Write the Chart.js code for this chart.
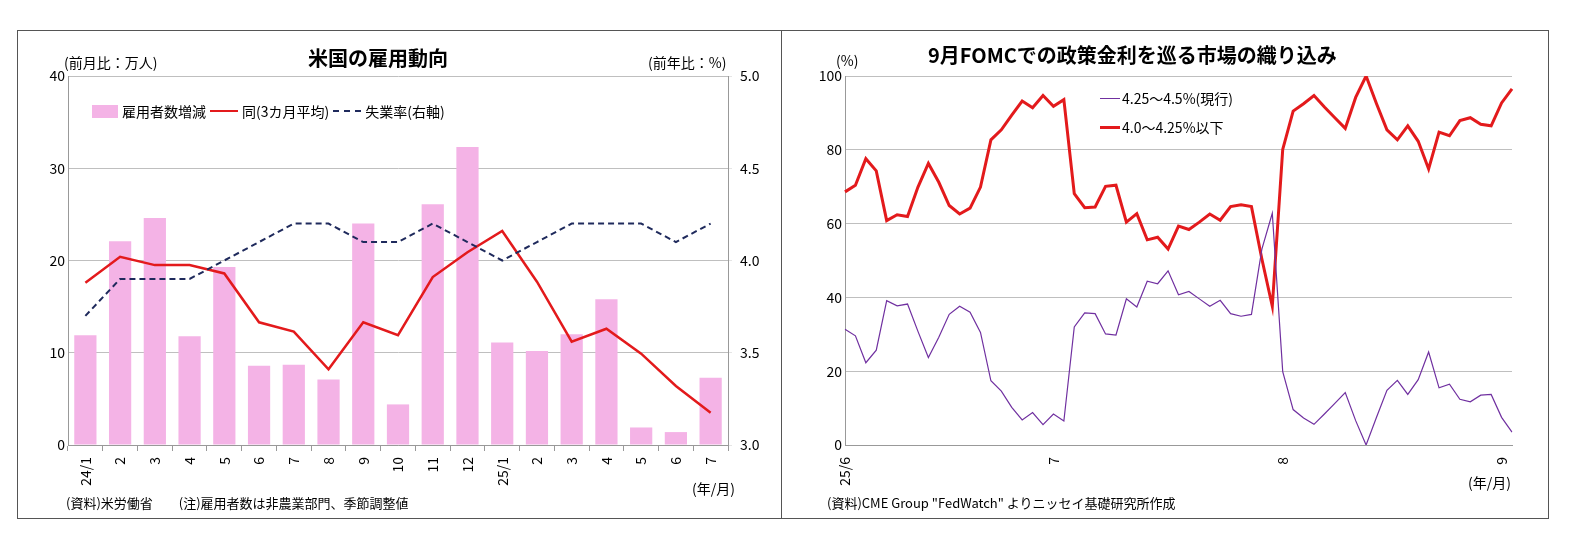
<!DOCTYPE html>
<html><head><meta charset="utf-8">
<script src="https://cdn.jsdelivr.net/npm/chart.js@4"></script>
<style>
body{margin:0;background:#fff;font-family:"Noto Sans CJK JP",sans-serif;}
#frame{position:absolute;left:17px;top:30px;width:1530px;height:487px;border:1px solid #555;}
#div{position:absolute;left:781px;top:30px;width:1px;height:488px;background:#555;}
.t{position:absolute;font-size:13px;color:#000;white-space:nowrap;}
.title{font-size:20px;font-weight:bold;}
canvas{position:absolute;}
.lg{position:absolute;font-size:14px;display:flex;align-items:center;white-space:nowrap;}
</style></head><body>
<div id="frame"></div><div id="div"></div>
<div style="position:absolute;left:17px;top:30px;width:764px;height:488px"><canvas id="c1" width="764" height="488"></canvas></div>
<div style="position:absolute;left:782px;top:30px;width:766px;height:488px"><canvas id="c2" width="766" height="488"></canvas></div>
<div class="t" style="left:64px;top:52px;font-size:14px">(前月比：万人)</div>
<div class="t title" style="left:308px;top:43px">米国の雇用動向</div>
<div class="t" style="left:648px;top:52px;font-size:14px">(前年比：%)</div>
<div class="t" style="left:66px;top:493px">(資料)米労働省　　(注)雇用者数は非農業部門、季節調整値</div>
<div class="t" style="left:692px;top:478px;font-size:14px">(年/月)</div>
<div class="lg" style="left:92px;top:101px"><span style="display:inline-block;width:26px;height:13px;background:#F4B3E6;margin-right:4px"></span>雇用者数増減<span style="display:inline-block;width:28px;height:2px;background:#E31A1C;margin:0 4px"></span>同(3カ月平均)<span style="display:inline-block;width:28px;border-top:2px dashed #1F2A5C;margin:0 4px"></span>失業率(右軸)</div>
<div class="t" style="left:836px;top:50px;font-size:14px">(%)</div>
<div class="t title" style="left:928px;top:40px">9月FOMCでの政策金利を巡る市場の織り込み</div>
<div class="t" style="left:827px;top:493px">(資料)CME Group "FedWatch" よりニッセイ基礎研究所作成</div>
<div class="t" style="left:1468px;top:472px;font-size:14px">(年/月)</div>
<div class="lg" style="left:1100px;top:88px"><span style="display:inline-block;width:20px;height:1px;background:#7030A0;margin-right:2px"></span>4.25～4.5%(現行)</div>
<div class="lg" style="left:1100px;top:117px"><span style="display:inline-block;width:20px;height:3px;background:#E31A1C;margin-right:2px"></span>4.0～4.25%以下</div>
<script>
const months=['24/1','2','3','4','5','6','7','8','9','10','11','12','25/1','2','3','4','5','6','7'];
const jobs=[11.9,22.1,24.6,11.8,19.3,8.6,8.7,7.1,24.0,4.4,26.1,32.3,11.1,10.2,12.0,15.8,1.9,1.4,7.3];
const jobs3m=[17.6,20.4,19.5,19.5,18.6,13.3,12.3,8.2,13.3,11.9,18.2,20.9,23.2,17.7,11.2,12.6,9.9,6.4,3.5];
const unemp=[3.7,3.9,3.9,3.9,4.0,4.1,4.2,4.2,4.1,4.1,4.2,4.1,4.0,4.1,4.2,4.2,4.2,4.1,4.2];
const rateCurrent=[31.4,29.6,22.3,25.7,39.1,37.7,38.2,30.8,23.7,29.2,35.4,37.6,36.0,30.5,17.4,14.6,10.2,6.8,8.8,5.5,8.4,6.5,32.0,35.8,35.6,30.1,29.8,39.6,37.4,44.4,43.7,47.2,40.7,41.6,39.6,37.6,39.2,35.6,34.9,35.4,53.1,62.8,19.9,9.6,7.3,5.6,8.4,11.3,14.2,6.6,0,7.5,14.8,17.5,13.7,17.7,25.2,15.5,16.5,12.4,11.7,13.5,13.7,7.5,3.5];
const rateCut=[68.6,70.4,77.6,74.3,60.8,62.4,61.9,69.9,76.3,71.2,64.9,62.6,64.2,69.9,82.7,85.4,89.4,93.2,91.4,94.7,91.8,93.6,68.1,64.3,64.5,70.1,70.4,60.4,62.7,55.6,56.3,53.1,59.3,58.4,60.4,62.6,60.9,64.6,65.1,64.6,50.4,37.6,80.1,90.5,92.5,94.7,91.6,88.7,85.8,94.2,100,92.5,85.4,82.7,86.5,82.3,74.8,84.8,83.8,87.9,88.7,86.9,86.5,92.7,96.5];
const dayLabels=rateCut.map((_,i)=>i===0?'25/6':i===20?'7':i===42?'8':i===63?'9':'');
const F='"Noto Sans CJK JP", sans-serif';
const rotLabels={id:'rot',afterDraw(c){const s=c.scales.x,ctx=c.ctx;ctx.save();ctx.font='14px '+F;ctx.fillStyle='#000';ctx.textAlign='right';ctx.textBaseline='middle';
 c.data.labels.forEach((l,i)=>{if(!l)return;const x=s.getPixelForValue(i);ctx.save();ctx.translate(x,s.top+12);ctx.rotate(-Math.PI/2);ctx.fillText(l,0,0);ctx.restore();});ctx.restore();}};
const fit=(w)=>function(a){a.width=w;};
new Chart(document.getElementById('c1'),{type:'bar',plugins:[rotLabels],
 data:{labels:months,datasets:[
  {type:'line',data:jobs3m,borderColor:'#E31A1C',borderWidth:2.5,pointRadius:0,yAxisID:'y',order:1},
  {type:'line',data:unemp,borderColor:'#1F2A5C',borderWidth:2,borderDash:[6,4],pointRadius:0,yAxisID:'y2',order:0},
  {data:jobs,backgroundColor:'#F4B3E6',barPercentage:0.64,categoryPercentage:1,yAxisID:'y',order:2}]},
 options:{responsive:false,animation:false,layout:{padding:{top:46,bottom:0}},plugins:{legend:{display:false},tooltip:{enabled:false}},
  scales:{x:{offset:true,grid:{offset:true,drawOnChartArea:false,tickLength:6,color:'#999'},border:{color:'#999'},ticks:{display:false},afterFit(a){a.height=73;}},
   y:{min:0,max:40,ticks:{stepSize:10,font:{size:14,family:F},color:'#000'},grid:{color:'#BFBFBF',drawTicks:false},border:{color:'#999'},afterFit:fit(51)},
   y2:{position:'right',min:3,max:5,ticks:{stepSize:0.5,callback:v=>v.toFixed(1),font:{size:14,family:F},color:'#000',padding:8},grid:{drawOnChartArea:false,tickLength:4},border:{color:'#999'},afterFit:fit(53)}}}});
new Chart(document.getElementById('c2'),{type:'line',plugins:[rotLabels],
 data:{labels:dayLabels,datasets:[
  {data:rateCurrent,borderColor:'#7030A0',borderWidth:1.2,pointRadius:0},
  {data:rateCut,borderColor:'#E31A1C',borderWidth:3,pointRadius:0}]},
 options:{responsive:false,animation:false,layout:{padding:{top:46,right:36}},plugins:{legend:{display:false},tooltip:{enabled:false}},
  scales:{x:{grid:{display:false},border:{color:'#999'},ticks:{display:false},afterFit(a){a.height=73;}},
   y:{min:0,max:100,ticks:{stepSize:20,font:{size:14,family:F},color:'#000'},grid:{color:'#BFBFBF',drawTicks:false},border:{color:'#999'},afterFit:fit(63)}}}});
</script></body></html>
